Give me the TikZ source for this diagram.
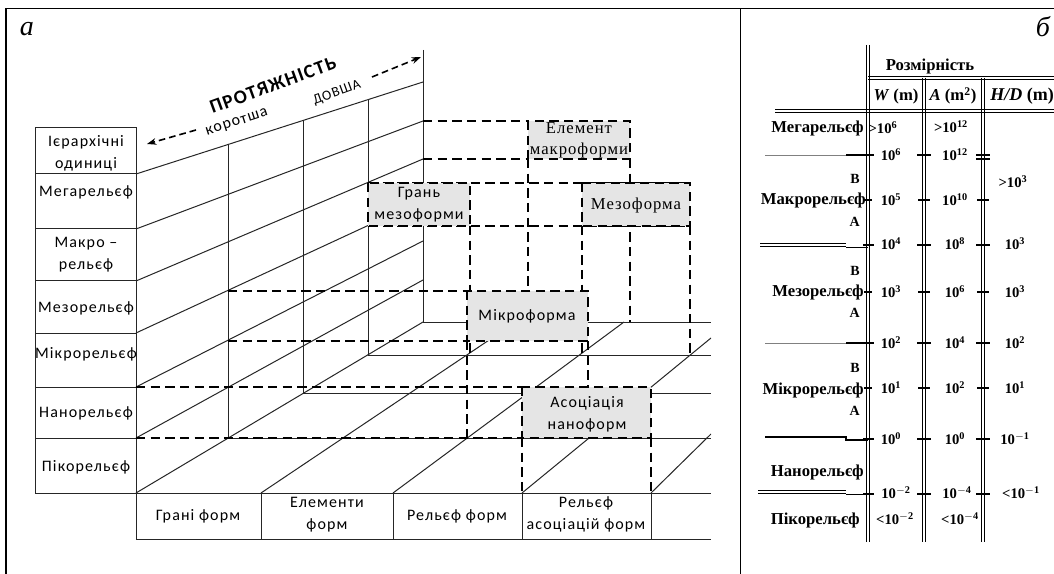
\documentclass[tikz,border=0pt]{standalone}
\usepackage{fontspec}
\setmainfont{Liberation Serif}
\newfontfamily\calf[LetterSpace=7]{Carlito}
\newfontfamily\serf[LetterSpace=6]{Liberation Serif}
\usetikzlibrary{arrows.meta}
\newcommand\supr[1]{\textsuperscript{#1}}
\begin{document}
\begin{tikzpicture}[x=0.75pt,y=-0.75pt,
  ln/.style={line width=0.75pt, draw=black!85},
  dl/.style={line width=1.5pt, dash pattern=on 7pt off 4pt},
  bx/.style={dl, fill=black!10},
  frm/.style={line width=1pt},
  lab/.style={font=\calf\fontsize{12}{16.5}\selectfont, align=center, inner sep=0pt},
  slab/.style={font=\serf\fontsize{12.5}{16}\selectfont, align=center, inner sep=0pt},
  rl/.style={font=\bfseries\fontsize{12.5}{13}\selectfont, inner sep=0pt},
  rs/.style={font=\bfseries\fontsize{10.5}{11}\selectfont, inner sep=0pt},
  rv/.style={font=\bfseries\fontsize{11}{12}\selectfont, inner sep=0pt},
  rln/.style={line width=0.7pt},
  tk/.style={line width=1pt}
]
\useasboundingbox (0,0) rectangle (1054,574);
\fill[white] (0,0) rectangle (1054,574);
% frame
\draw[frm] (5,8.5) -- (1054,8.5);
\draw[frm] (6,8.5) -- (6,574);
\draw[frm] (740.5,8.5) -- (740.5,574);
\node[font=\itshape\fontsize{21}{22}\selectfont, inner sep=0pt] (la) at (27,29) {а};
\node[font=\itshape\fontsize{21}{22}\selectfont, inner sep=0pt] (lb) at (1043,27) {б};

\begin{scope}
\clip (0,0) rectangle (711,574);
% label column
\draw[ln] (35,128) rectangle (136,493);
\foreach \y in {174,229,281,333,387,438} \draw[ln] (35,\y) -- (136,\y);
% wall diagonals
\draw[ln] (136,174) -- (423,82);
\draw[ln] (136,229) -- (423,121);
\draw[ln] (136,281) -- (423,159);
\draw[ln] (136,333) -- (423,200);
\draw[ln] (136,387) -- (423,241);
\draw[ln] (136,438) -- (423,280);
\draw[ln] (136,493) -- (423,322);
% depth verticals
\draw[ln] (228,144.5) -- (228,438);
\draw[ln] (303,120.5) -- (303,393.5);
\draw[ln] (368,99.6) -- (368,355);
\draw[ln] (423,50) -- (423,322);
% floor horizontals
\draw[ln] (228,438) -- (711,438);
\draw[ln] (303,393.5) -- (711,393.5);
\draw[ln] (368,355) -- (711,355);
\draw[ln] (423,322) -- (711,322);
% floor diagonals
\draw[ln] (261,493) -- (516,322);
\draw[ln] (393,493) -- (624,322);
\draw[ln] (522,493) -- (711,338);
\draw[ln] (651,493) -- (711,434);
% bottom row
\draw[ln] (136,493) -- (711,493);
\draw[ln] (136,539) -- (711,539);
\foreach \x in {136,261,393,522,651} \draw[ln] (\x,493) -- (\x,539);
% dashed level lines
\draw[dl] (136,387) -- (522,387);
\draw[dl] (136,438) -- (522,438);
\draw[dl] (228,291) -- (467,291);
\draw[dl] (228,341) -- (467,341);
\draw[dl] (368,183) -- (690,183);
\draw[dl] (368,226) -- (690,226);
\draw[dl] (423,121) -- (528,121);
\draw[dl] (423,159) -- (528,159);
% dashed verticals
\draw[dl] (470,226) -- (470,355);
\draw[dl] (528,159) -- (528,322);
\draw[dl] (630,159) -- (630,322);
\draw[dl] (582,226) -- (582,355);
\draw[dl] (690,226) -- (690,355);
\draw[dl] (467,341) -- (467,438);
\draw[dl] (588,341) -- (588,438);
\draw[dl] (522,438) -- (522,493);
\draw[dl] (651,438) -- (651,493);
% boxes
\draw[bx] (368,183) rectangle (470,226);
\draw[bx] (582,183) rectangle (690,226);
\draw[bx] (528,121) rectangle (630,159);
\draw[bx] (467,291) rectangle (588,341);
\draw[bx] (522,387) rectangle (651,438);
\end{scope}

% left labels
\node[lab] (hier) at (86,153) {Ієрархічні\\одиниці};
\node[lab] (mega) at (86,192) {Мегарельєф};
\node[lab] (makro) at (86,255) {Макро –\\рельєф};
\node[lab] (mezo) at (86,308) {Мезорельєф};
\node[lab] (mikro) at (86,354) {Мікрорельєф};
\node[lab] (nano) at (86,413) {Нанорельєф};
\node[lab] (piko) at (86,467) {Пікорельєф};
% bottom labels
\node[lab] (gf) at (198,516) {Грані форм};
\node[lab] (ef) at (327,515) {Елементи\\форм};
\node[lab] (rf) at (457,516) {Рельєф форм};
\node[lab] (raf) at (586,514) {Рельєф\\асоціацій форм};
% box labels
\node[lab] (gm) at (419,205) {Грань\\мезоформи};
\node[slab] (mf) at (636,205) {Мезоформа};
\node[slab] (em) at (579,140) {Елемент\\макроформи};
\node[lab] (mk) at (527,316) {Мікроформа};
\node[lab] (an) at (587,414) {Асоціація\\наноформ};
% top axis
\node[lab, font=\calf\bfseries\fontsize{14.5}{15}\selectfont, rotate=20] (prot) at (273,85) {ПРОТЯЖНІСТЬ};
\node[lab, rotate=18] (kor) at (237,123) {коротша};
\node[lab, font=\calf\fontsize{10.5}{11}\selectfont, rotate=20] (dov) at (337,93) {ДОВША};
\coordinate (ka) at (196,130);
\coordinate (kt) at (147,144);
\coordinate (da) at (372,77);
\coordinate (dt) at (421,57);
\draw[line width=1.2pt, dash pattern=on 5pt off 3pt, -{Stealth[length=7pt,width=5pt]}] (ka) -- (kt);
\draw[line width=1.2pt, dash pattern=on 5pt off 3pt, -{Stealth[length=7pt,width=5pt]}] (da) -- (dt);

% right panel
\begin{scope}
\clip (742,9) rectangle (1054,574);
\foreach \x/\t in {868/45,924/78,983/78} {
  \draw[rln] (\x-1.2,\t) -- (\x-1.2,542);
  \draw[rln] (\x+1.2,\t) -- (\x+1.2,542);
}
\draw[rln] (868,76.8) -- (1060,76.8);
\draw[rln] (868,79.2) -- (1060,79.2);
\draw[rln] (775,109.8) -- (1060,109.8);
\draw[rln] (775,112.2) -- (1060,112.2);
% row separators
\draw[line width=0.6pt, black!50] (765,155) -- (846,155);
\draw[line width=1.3pt] (846,155) -- (868,155);
\draw[rln] (760,243.8) -- (846,243.8);
\draw[rln] (760,246.2) -- (846,246.2);
\draw[line width=0.6pt] (846,247) -- (868,247);
\draw[line width=0.6pt, black!50] (765,343) -- (846,343);
\draw[line width=1.3pt] (846,343) -- (868,343);
\draw[line width=1pt] (765,437) -- (846,437) -- (846,440) -- (868,440);
\draw[rln] (758,490.8) -- (846,490.8);
\draw[rln] (758,493.2) -- (846,493.2);
\draw[line width=0.6pt] (846,494) -- (868,494);
% ticks
\foreach \y in {155,245,343,439,494} {
  \draw[tk] (863,\y) -- (874,\y);
  \draw[tk] (917,\y) -- (931,\y);
  \draw[tk] (976,\y) -- (990,\y);
}
\foreach \y in {200,292,388} {
  \draw[tk] (864,\y) -- (872,\y);
  \draw[tk] (918,\y) -- (930,\y);
  \draw[tk] (977,\y) -- (989,\y);
}
\draw[tk] (976,159) -- (990,159);
% header
\node[rl] (roz) at (930,66) {Розмірність};
\node[rl] (hw) at (896,96) {\itshape W\/ \upshape(m)};
\node[rl] (ha) at (953,96) {\itshape A\/ \upshape(m\supr{2})};
\node[rl, font=\bfseries\fontsize{13.5}{14}\selectfont, anchor=west] (hh) at (990,96) {\itshape H/D\/ \upshape(m)};
% row labels
\node[rl, anchor=east] (r1) at (864,128) {Мегарельєф};
\node[rs, anchor=east] (r2b) at (860,179) {В};
\node[rl, anchor=east] (r2) at (866,200) {Макрорельєф};
\node[rs, anchor=east] (r2a) at (860,222) {А};
\node[rs, anchor=east] (r3b) at (860,271) {В};
\node[rl, anchor=east] (r3) at (864,292) {Мезорельєф};
\node[rs, anchor=east] (r3a) at (860,313) {А};
\node[rs, anchor=east] (r4b) at (860,368) {В};
\node[rl, anchor=east] (r4) at (864,390) {Мікрорельєф};
\node[rs, anchor=east] (r4a) at (860,411) {А};
\node[rl, anchor=east] (r5) at (864,472) {Нанорельєф};
\node[rl, anchor=east] (r6) at (860,520) {Пікорельєф};
% values
\node[rv] (v11) at (883,128) {>10\supr{6}};
\node[rv] (v12) at (951,127) {>10\supr{12}};
\node[rv] (v21) at (891,155) {10\supr{6}};
\node[rv] (v22) at (955,155) {10\supr{12}};
\node[rv] (v33) at (1013,182) {>10\supr{3}};
\node[rv] (v31) at (891,200) {10\supr{5}};
\node[rv] (v32) at (955,200) {10\supr{10}};
\node[rv] (v41) at (891,244) {10\supr{4}};
\node[rv] (v42) at (955,244) {10\supr{8}};
\node[rv] (v43) at (1015,244) {10\supr{3}};
\node[rv] (v51) at (891,292) {10\supr{3}};
\node[rv] (v52) at (955,292) {10\supr{6}};
\node[rv] (v53) at (1015,292) {10\supr{3}};
\node[rv] (v61) at (891,343) {10\supr{2}};
\node[rv] (v62) at (955,343) {10\supr{4}};
\node[rv] (v63) at (1015,343) {10\supr{2}};
\node[rv] (v71) at (891,388) {10\supr{1}};
\node[rv] (v72) at (955,388) {10\supr{2}};
\node[rv] (v73) at (1015,388) {10\supr{1}};
\node[rv] (v81) at (891,439) {10\supr{0}};
\node[rv] (v82) at (955,439) {10\supr{0}};
\node[rv] (v83) at (1015,439) {10\supr{$-$1}};
\node[rv] (v91) at (896,493) {10\supr{$-$2}};
\node[rv] (v92) at (957,493) {10\supr{$-$4}};
\node[rv] (v93) at (1021,493) {<10\supr{$-$1}};
\node[rv] (va1) at (895,519) {<10\supr{$-$2}};
\node[rv] (va2) at (960,519) {<10\supr{$-$4}};
\end{scope}
\end{tikzpicture}
\end{document}
